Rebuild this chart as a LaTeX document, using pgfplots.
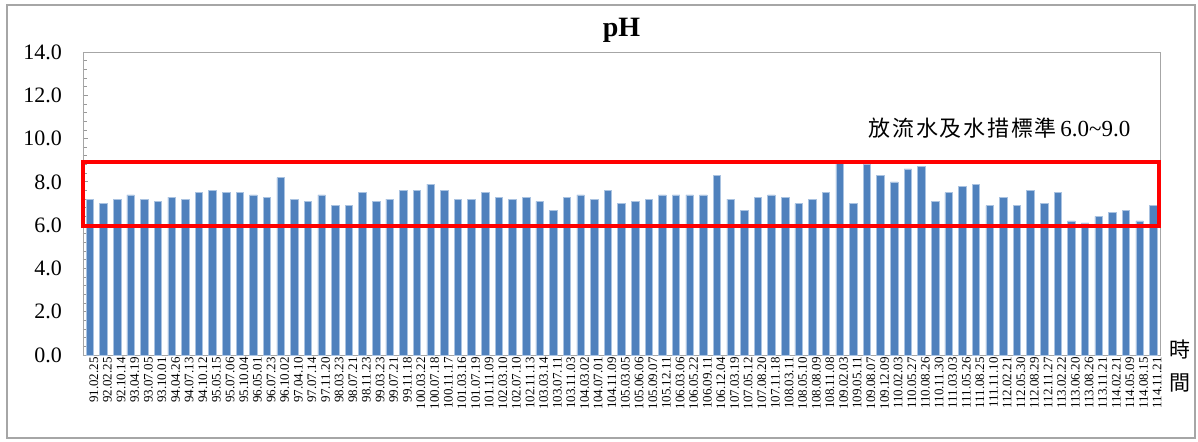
\documentclass[border=0pt]{standalone}
\usepackage{fontspec}
\setmainfont{Liberation Serif}
\newfontfamily\cjk[LetterSpace=8]{Noto Sans CJK TC}
\newfontfamily\cjkplain{Noto Sans CJK TC}
\usepackage{pgfplots}
\usepackage{pgfplotstable}
\pgfplotsset{compat=1.18}
\definecolor{barblue}{RGB}{79,129,189}
\definecolor{baredge}{RGB}{170,195,225}

\pgfplotstableread{
idx val lab
1  7.2 91.02.25
2  7.0 92.02.25
3  7.2 92.10.14
4  7.4 93.04.19
5  7.2 93.07.05
6  7.1 93.10.01
7  7.3 94.04.26
8  7.2 94.07.13
9  7.5 94.10.12
10 7.6 95.05.15
11 7.5 95.07.06
12 7.5 95.10.04
13 7.4 96.05.01
14 7.3 96.07.23
15 8.2 96.10.02
16 7.2 97.04.10
17 7.1 97.07.14
18 7.4 97.11.20
19 6.9 98.03.23
20 6.9 98.07.21
21 7.5 98.11.23
22 7.1 99.03.23
23 7.2 99.07.21
24 7.6 99.11.18
25 7.6 100.03.22
26 7.9 100.07.18
27 7.6 100.11.17
28 7.2 101.03.16
29 7.2 101.07.19
30 7.5 101.11.09
31 7.3 102.03.10
32 7.2 102.07.10
33 7.3 102.11.13
34 7.1 103.03.14
35 6.7 103.07.11
36 7.3 103.11.03
37 7.4 104.03.02
38 7.2 104.07.01
39 7.6 104.11.09
40 7.0 105.03.05
41 7.1 105.06.06
42 7.2 105.09.07
43 7.4 105.12.11
44 7.4 106.03.06
45 7.4 106.05.22
46 7.4 106.09.11
47 8.3 106.12.04
48 7.2 107.03.19
49 6.7 107.05.12
50 7.3 107.08.20
51 7.4 107.11.18
52 7.3 108.03.11
53 7.0 108.05.10
54 7.2 108.08.09
55 7.5 108.11.08
56 8.9 109.02.03
57 7.0 109.05.11
58 8.8 109.08.07
59 8.3 109.12.09
60 8.0 110.02.03
61 8.6 110.05.27
62 8.7 110.08.26
63 7.1 110.11.30
64 7.5 111.03.03
65 7.8 111.05.26
66 7.9 111.08.25
67 6.9 111.11.10
68 7.3 112.02.21
69 6.9 112.05.30
70 7.6 112.08.29
71 7.0 112.11.27
72 7.5 113.02.22
73 6.2 113.06.20
74 6.1 113.08.26
75 6.4 113.11.21
76 6.6 114.02.21
77 6.7 114.05.09
78 6.2 114.08.15
79 6.9 114.11.21
}\phdata

\begin{document}
\begin{tikzpicture}
\begin{axis}[
  scale only axis,
  width=538.5pt, height=151.5pt,
  ybar, bar width=3.75pt,
  xmin=0.5, xmax=79.5,
  ymin=0, ymax=14,
  clip=false,
  ytick={0,2,...,14},
  minor y tick num=4,
  ytick pos=left,
  tick align=inside,
  major tick length=2.5pt,
  minor tick length=2pt,
  every tick/.style={gray!80},
  /pgf/number format/assume math mode=true,
  yticklabel style={/pgf/number format/.cd, fixed, fixed zerofill, precision=1,
    /tikz/.cd, font=\fontsize{11}{11}\selectfont, xshift=-7pt},
  xtick={1,...,79},
  xticklabels from table={\phdata}{lab},
  xticklabel style={rotate=90, anchor=east, font=\fontsize{6.5}{6.5}\selectfont,
    inner sep=1pt, yshift=-2pt},
  major x tick style={draw=none},
  axis line style={gray!70},
]
\addplot[fill=barblue, draw=baredge, line width=0.3pt] table[x=idx, y=val] {\phdata};
\draw[red, line width=2pt] (axis cs:0.48,5.95) rectangle (axis cs:79.44,8.9);
\node[anchor=west, inner sep=0pt] at (axis cs:58.1,10.5)
  {{\cjk\fontsize{11}{12}\selectfont 放流水及水措標準}\,{\fontsize{11.5}{12}\selectfont 6.0\textasciitilde9.0}};
\node[font=\cjkplain\fontsize{10.5}{16.5}\selectfont, align=center, inner sep=0pt]
  at (rel axis cs:1,0) [xshift=10pt, yshift=-5.75pt] {時\\間};
\node[font=\bfseries\fontsize{14}{15}\selectfont, inner sep=0pt]
  at (rel axis cs:0.5,1) [yshift=11pt] {pH};
\end{axis}
\draw[gray!70, line width=1pt] (-38pt,-41.5pt) rectangle (556pt,175pt);
\path (-41.5pt,-43pt) rectangle (557.5pt,177.5pt);
\end{tikzpicture}
\end{document}
